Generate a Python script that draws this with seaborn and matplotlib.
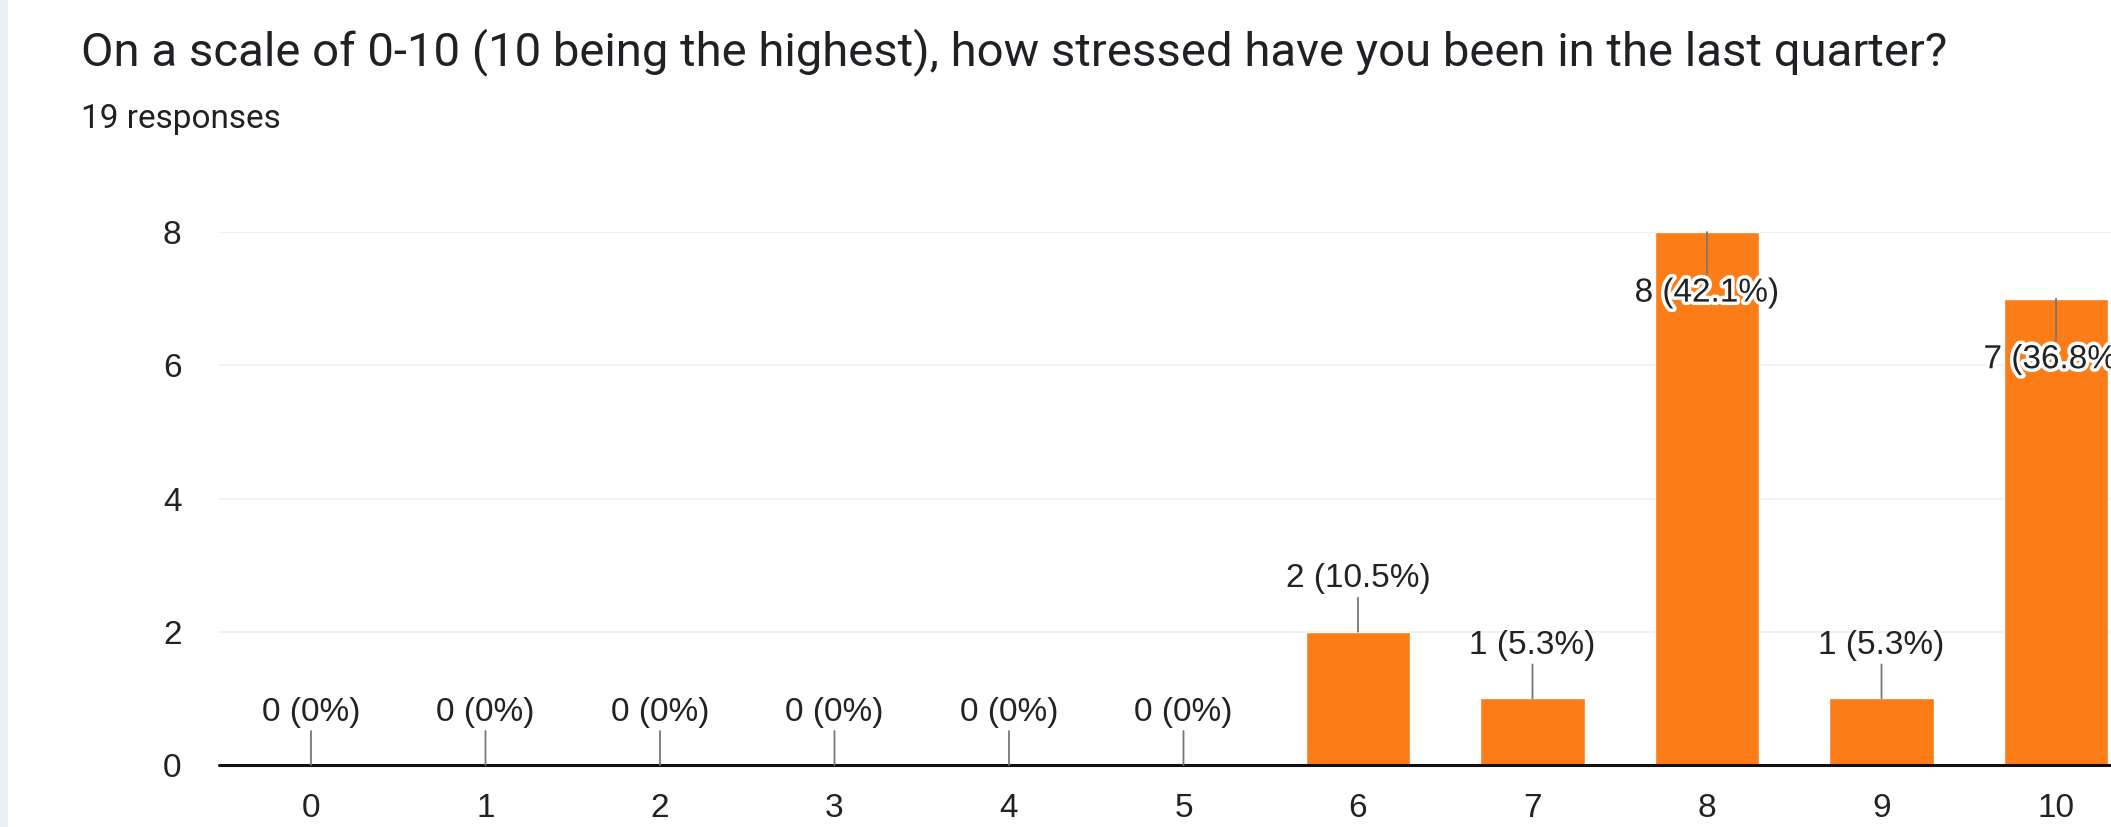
import matplotlib
matplotlib.use("Agg")
import matplotlib.pyplot as plt
import matplotlib.patheffects as pe
import seaborn as sns
import pandas as pd

# Survey results: stress rating (0-10) vs. number of responses
scores = ["0", "1", "2", "3", "4", "5", "6", "7", "8", "9", "10"]
counts = [0, 0, 0, 0, 0, 0, 2, 1, 8, 1, 7]
y_ticks = [0, 2, 4, 6, 8]

title = "On a scale of 0-10 (10 being the highest), how stressed have you been in the last quarter?"
subtitle = "19 responses"

total = sum(counts)
df = pd.DataFrame({"score": scores, "count": counts})

sns.set_theme(style="white")
plt.rcParams["font.family"] = ["Liberation Sans", "DejaVu Sans"]

BAR = "#fc7d17"
TXT = "#222222"

fig = plt.figure(figsize=(21.11, 8.27), dpi=100)
fig.patch.set_facecolor("white")

# thin tinted strip along the left edge
fig.add_artist(plt.Rectangle((0, 0), 8 / 2111, 1, transform=fig.transFigure,
                             facecolor="#e8f1f4", edgecolor="none"))

ax = fig.add_axes([219 / 2111, 1 - 765 / 827, 1 - 219 / 2111, (765 - 232) / 827])
sns.barplot(data=df, x="score", y="count", order=scores, color=BAR,
            width=0.6, saturation=1, ax=ax, zorder=3)

ax.set_xlim(-0.527, 10.315)
ax.set_ylim(0, 8)
ax.set_yticks(y_ticks)
ax.set_xlabel("")
ax.set_ylabel("")
for s in ax.spines.values():
    s.set_visible(False)
ax.grid(False)
for yv in y_ticks[1:]:
    ax.axhline(yv, color="#efefef", lw=1.2, zorder=1)
ax.axhline(0, color="#111111", lw=2.2, zorder=4, clip_on=False)

ax.tick_params(axis="x", length=0, pad=20, labelsize=24, labelcolor=TXT)
ax.tick_params(axis="y", length=0, pad=27, labelsize=24, labelcolor=TXT)

# value labels with leader lines
for i, c in enumerate(counts):
    pct = 100 * c / total
    label = f"{c} ({pct:.1f}%)" if c else f"{c} (0%)"
    inside = c > 6
    off = -44 if inside else 38
    t = ax.annotate(label, xy=(i, c), xytext=(0, off), textcoords="offset points",
                    ha="center", va="center", fontsize=24, color=TXT, zorder=6,
                    arrowprops=dict(arrowstyle="-", color="#777777", lw=1.3,
                                    shrinkA=0, shrinkB=0))
    if inside:
        t.set_path_effects([pe.withStroke(linewidth=5, foreground="white")])

fig.text(81 / 2111, 1 - 52 / 827, title, fontsize=34, color="#202124",
         family=["Roboto", "DejaVu Sans"], ha="left", va="center")
fig.text(81 / 2111, 1 - 119 / 827, subtitle, fontsize=24, color="#202124",
         family=["Roboto", "DejaVu Sans"], ha="left", va="center")

fig.savefig("out.png", dpi=100)
